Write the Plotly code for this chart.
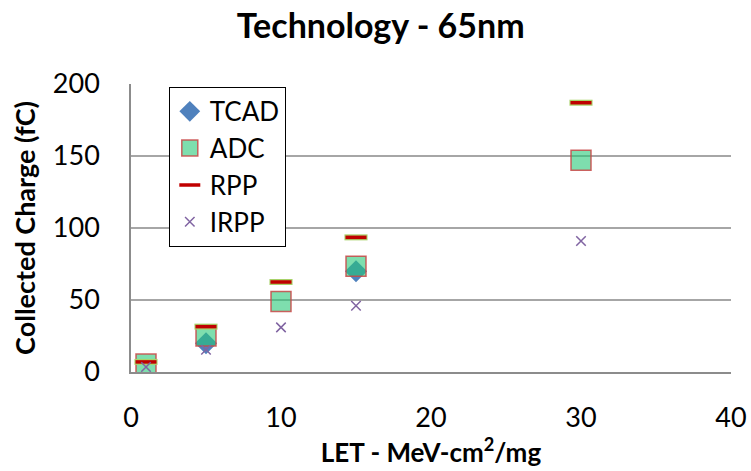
import plotly.graph_objects as go

# LET values (MeV-cm2/mg) and collected charge (fC) for each method
let_vals = [1, 5, 10, 15, 30]
tcad_let = [5, 15]
tcad = [20, 70]
adc = [5.5, 25, 49, 73.5, 147]
rpp = [7, 31.5, 62.5, 93.5, 187]
irpp = [3.5, 15.5, 31, 46, 91]

FONT = "Lato"

fig = go.Figure()

fig.add_trace(go.Scatter(
    x=tcad_let, y=tcad, mode="markers", name="TCAD",
    marker=dict(symbol="diamond", size=17, color="#4F81BD"),
))
fig.add_trace(go.Scatter(
    x=let_vals, y=adc, mode="markers", name="ADC",
    marker=dict(symbol="square", size=20, color="rgba(40,200,120,0.6)",
                line=dict(color="rgba(200,70,70,0.85)", width=1.5)),
))
# green halo behind the red RPP dashes
fig.add_trace(go.Scatter(
    x=let_vals, y=rpp, mode="markers", name="RPP", showlegend=False,
    hoverinfo="skip",
    marker=dict(symbol="line-ew", size=16.5, color="#A8D26A",
                line=dict(color="#A8D26A", width=6)),
))
fig.add_trace(go.Scatter(
    x=let_vals, y=rpp, mode="markers", name="RPP",
    marker=dict(symbol="line-ew", size=15, color="#C00000",
                line=dict(color="#C00000", width=3.5)),
))
fig.add_trace(go.Scatter(
    x=let_vals, y=irpp, mode="markers", name="IRPP",
    marker=dict(symbol="x-thin-open", size=9.5, color="#8064A2",
                line=dict(color="#8064A2", width=1.5)),
))

fig.update_layout(
    width=751, height=471,
    margin=dict(l=131, r=20, t=84, b=99),
    paper_bgcolor="white", plot_bgcolor="white",
    font=dict(family=FONT, size=27, color="black"),
    title=dict(text="<b>Technology - 65nm</b>", x=0.507, xanchor="center",
               y=0.945, yanchor="middle", font=dict(family=FONT, size=34)),
    showlegend=True,
    legend=dict(x=0.063, y=0.99, xanchor="left", yanchor="top",
                bordercolor="black", borderwidth=1, bgcolor="white",
                font=dict(family=FONT, size=26), tracegroupgap=0),
    xaxis=dict(range=[0, 40], dtick=10, showgrid=False, zeroline=False,
               showline=True, linecolor="#8C8C8C", linewidth=1.5,
               ticks="", ticklabelstandoff=21, automargin=False,
               tickfont=dict(family=FONT, size=27),
               title=dict(text="<b>LET - MeV-cm<sup>2</sup>/mg</b>",
                          font=dict(family=FONT, size=26), standoff=3)),
    yaxis=dict(range=[0, 200], dtick=50, showgrid=True, gridcolor="#A6A6A6",
               gridwidth=1.5, zeroline=False, showline=True,
               linecolor="#8C8C8C", linewidth=1.5, ticks="",
               ticklabelstandoff=24, automargin=False,
               tickfont=dict(family=FONT, size=27),
               title=dict(text="<b>Collected Charge (fC)</b>",
                          font=dict(family=FONT, size=27), standoff=9)),
)

fig.write_html("out.html")
